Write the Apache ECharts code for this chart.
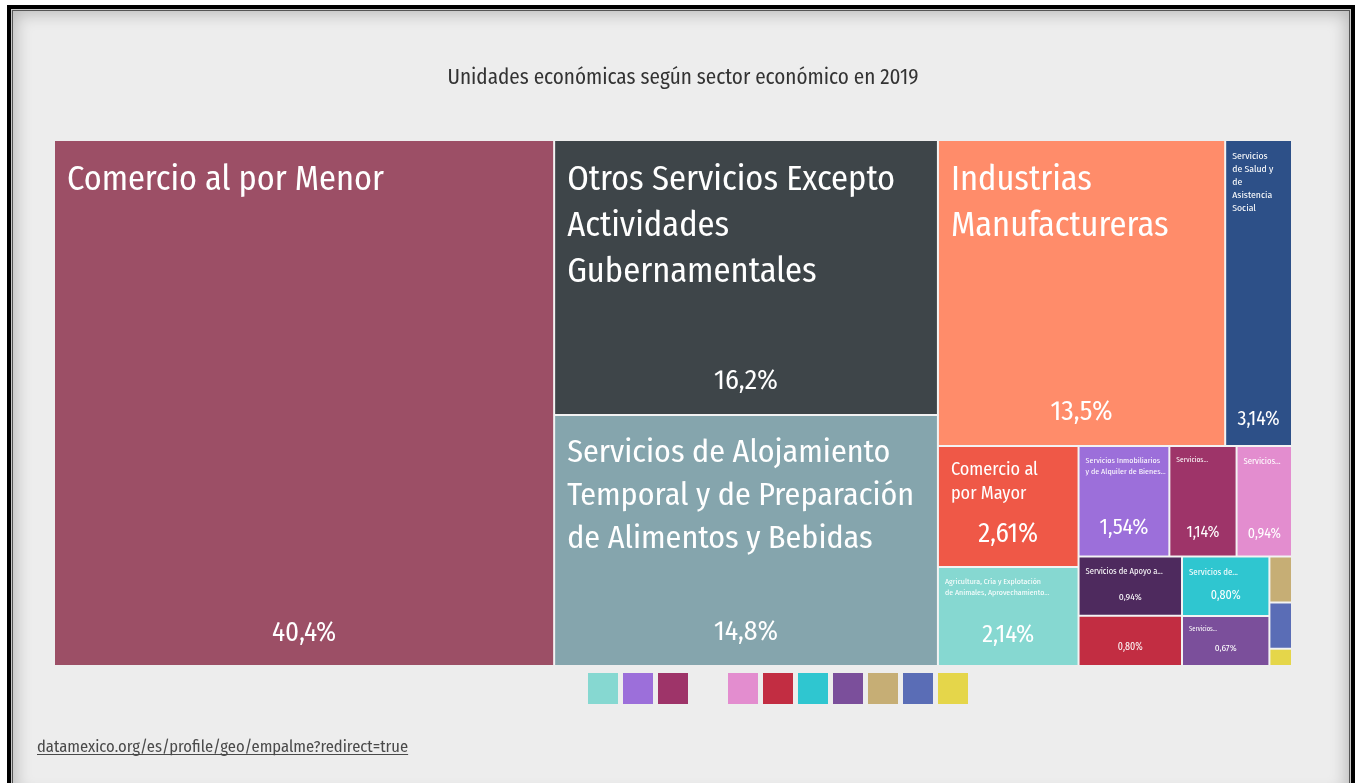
<!DOCTYPE html>
<html>
<head>
<meta charset="utf-8">
<script src="https://cdn.jsdelivr.net/npm/echarts@6/dist/echarts.min.js"></script>
<style>
  html, body { margin: 0; padding: 0; background: #fff; overflow: hidden; }
  #frame {
    position: absolute; left: 7px; top: 5px; width: 1340px; height: 790px;
    border: 4px solid #000; background: #ededed;
    box-shadow: inset 0 0 0 1px #c8c8c8, inset 0 0 0 2px #555, inset 0 0 16px 5px rgba(0,0,0,0.22);
  }
  #chart { position: absolute; left: 0; top: 0; width: 1358px; height: 783px; }
</style>
</head>
<body>
<div id="frame"></div>
<div id="chart"></div>
<script>
// sectors as labelled in the picture, largest first
const sectors = [
  'Comercio al por Menor',
  'Otros Servicios Excepto\nActividades\nGubernamentales',
  'Servicios de Alojamiento\nTemporal y de Preparación\nde Alimentos y Bebidas',
  'Industrias\nManufactureras',
  'Servicios\nde Salud y\nde\nAsistencia\nSocial',
  'Comercio al\npor Mayor',
  'Agricultura, Cría y Explotación\nde Animales, Aprovechamiento...',
  'Servicios Inmobiliarios\ny de Alquiler de Bienes...',
  'Servicios...',
  'Servicios...',
  'Servicios de Apoyo a...',
  '',
  'Servicios de...',
  'Servicios...',
  '',
  '',
  ''
];
// share of economic units, %
const shares = [40.4, 16.2, 14.8, 13.5, 3.14, 2.61, 2.14, 1.54, 1.14, 0.94, 0.94, 0.80, 0.80, 0.67, 0.16, 0.16, 0.06];
const showPct = [1, 1, 1, 1, 1, 1, 1, 1, 1, 1, 1, 1, 1, 1, 0, 0, 0];

const tileColors = ['#9c4f66', '#3e4549', '#85a5ad', '#ff8c6a', '#2d5088', '#ef5847', '#86d8d1', '#9c6fda',
  '#9e3469', '#e38dcf', '#4e2a5e', '#c22d42', '#2fc6d0', '#7b4f9b', '#c6ae75', '#5a6db6', '#e5d64a'];
const legendColors = ['#86d8d1', '#9c6fda', '#9e3469', null, '#e38dcf', '#c22d42', '#2fc6d0', '#7b4f9b', '#c6ae75', '#5a6db6', '#e5d64a'];

const titleText = 'Unidades económicas según sector económico en 2019';
const sourceText = 'datamexico.org/es/profile/geo/empalme?redirect=true';

// widest line widths in the picture, used to size the text
const nameWidths = [317, 328, 347, 218, 41, 87, 105, 80, 32, 37, 77, 0, 49, 28, 0, 0, 0];
const pctWidths = [64, 64, 64, 62, 42, 60, 52, 49, 33, 33, 23, 25, 30, 22, 0, 0, 0];

// pick a narrow face if there is one
const ctx = document.createElement('canvas').getContext('2d');
function hasFont(f) {
  const probe = 'Comercio al por Menor 40,4%';
  for (const fb of ['monospace', 'serif']) {
    ctx.font = '40px ' + fb;
    const w0 = ctx.measureText(probe).width;
    ctx.font = '40px "' + f + '", ' + fb;
    if (ctx.measureText(probe).width !== w0) return true;
  }
  return false;
}
const face = ['Fira Sans Condensed', 'Roboto Condensed', 'Noto Sans Condensed', 'DejaVu Sans Condensed',
  'Liberation Sans Narrow', 'Open Sans Condensed', 'Roboto'].find(hasFont) || 'sans-serif';
const FONT = face === 'sans-serif' ? face : '"' + face + '", sans-serif';

function widest(str, size) {
  ctx.font = size + 'px ' + FONT;
  return Math.max(...str.split('\n').map(s => ctx.measureText(s).width));
}
function fitSize(str, target) {
  return Math.round(target / widest(str, 100) * 1000) / 10;
}
const pctText = v => v.toFixed(v >= 10 ? 1 : 2).replace('.', ',') + '%';

const nameData = shares.map((v, i) => {
  const fs = nameWidths[i] ? fitSize(sectors[i], nameWidths[i]) : 0;
  const padL = fs >= 15 ? 12 : 6;
  return {
    name: sectors[i],
    value: v,
    itemStyle: {color: tileColors[i]},
    label: fs ? {
      fontSize: fs,
      lineHeight: Math.round(fs * 1.34),
      padding: [Math.round(6 + fs * 0.3), 0, 0, padL]
    } : {show: false}
  };
});

const pctData = shares.map((v, i) => {
  const fs = showPct[i] ? fitSize(pctText(v), pctWidths[i]) : 0;
  return {
    name: sectors[i],
    value: v,
    itemStyle: {color: 'rgba(0,0,0,0)', borderColor: 'rgba(0,0,0,0)'},
    label: fs ? {
      fontSize: fs,
      padding: [0, 0, Math.round(9 + fs * 0.35), 0]
    } : {show: false}
  };
});

const box = {left: 55, top: 141, width: 1236, height: 524};
const common = Object.assign({
  type: 'treemap',
  sort: false,
  squareRatio: 1.9,
  roam: false,
  nodeClick: false,
  silent: true,
  animation: false,
  breadcrumb: {show: false}
}, box);

const legendRects = [];
legendColors.forEach((c, i) => {
  if (!c) return;
  legendRects.push({
    type: 'rect',
    shape: {x: 588 + i * 35, y: 673, width: 30, height: 31},
    style: {fill: c}
  });
});

const titleSize = fitSize(titleText, 471);
const srcSize = fitSize(sourceText, 371);
ctx.font = srcSize + 'px ' + FONT;
const srcW = ctx.measureText(sourceText).width;

const chart = echarts.init(document.getElementById('chart'));
chart.setOption({
  backgroundColor: 'transparent',
  series: [
    Object.assign({}, common, {
      itemStyle: {borderWidth: 0, gapWidth: 2, borderColor: '#f3f3f3'},
      label: {
        show: true,
        position: 'insideTopLeft',
        color: '#fff',
        fontFamily: FONT,
        overflow: 'none'
      },
      data: nameData
    }),
    Object.assign({}, common, {
      color: ['rgba(0,0,0,0)'],
      itemStyle: {borderWidth: 0, gapWidth: 2, color: 'rgba(0,0,0,0)', borderColor: 'rgba(0,0,0,0)'},
      label: {
        show: true,
        position: 'insideBottom',
        distance: 0,
        color: '#fff',
        fontFamily: FONT,
        overflow: 'none',
        formatter: p => pctText(p.value)
      },
      data: pctData
    })
  ],
  graphic: [
    {
      type: 'text', x: 683, y: 78,
      style: {text: titleText, align: 'center', verticalAlign: 'middle', fill: '#333',
        fontSize: titleSize, fontFamily: FONT}
    },
    {
      type: 'text', x: 37, y: 747,
      style: {text: sourceText, align: 'left', verticalAlign: 'middle', fill: '#4a4a4a',
        fontSize: srcSize, fontFamily: FONT}
    },
    {
      type: 'line', shape: {x1: 37, y1: 754.5, x2: 37 + srcW, y2: 754.5},
      style: {stroke: '#4a4a4a', lineWidth: 1}
    }
  ].concat(legendRects)
});
</script>
</body>
</html>
